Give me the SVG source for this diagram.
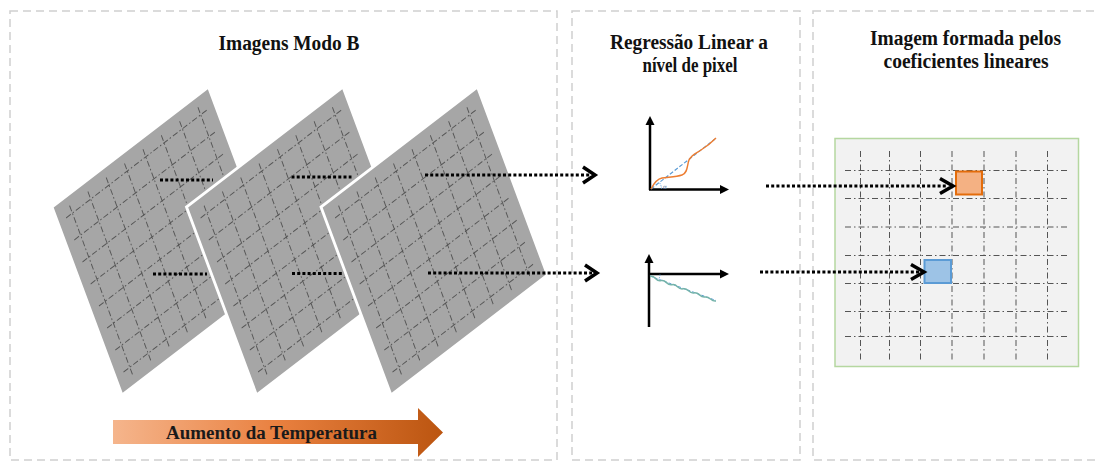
<svg xmlns="http://www.w3.org/2000/svg" xmlns:xlink="http://www.w3.org/1999/xlink" width="1099" height="463" viewBox="0 0 1099 463">
<style>
.panel{fill:none;stroke:#d0d0d0;stroke-width:1.5;stroke-dasharray:8 5}
.title{font-family:'Liberation Serif','DejaVu Serif','Noto Serif',serif;font-weight:bold;font-size:20px;fill:#111;text-anchor:middle}
.pl{fill:#a6a6a6;stroke:#fff;stroke-width:1.5}
.pg{fill:none;stroke:#555;stroke-width:0.5;stroke-dasharray:3 1.2 0.8 1.2}
.dot{fill:none;stroke:#000;stroke-width:3.2;stroke-dasharray:3 2.2}
.chev{fill:none;stroke:#000;stroke-width:3.5;stroke-linejoin:miter}
.axis{stroke:#000;stroke-width:2.5;fill:none}
.ah{fill:#000}
.rg{fill:none;stroke:#555;stroke-width:1;stroke-dasharray:6 3 1.5 3}
</style>
<defs>
<linearGradient id="temp" x1="0" y1="0" x2="1" y2="0">
<stop offset="0" stop-color="#f5b58c"/>
<stop offset="0.5" stop-color="#e9803f"/>
<stop offset="1" stop-color="#bb5510"/>
</linearGradient>
<g id="planeShape">
<polygon class="pl" points="0,0 100,0 100,100 0,100"/>
<path class="pg" d="M9,5V95M20.7,5V95M32.4,5V95M44.1,5V95M55.9,5V95M67.6,5V95M79.3,5V95M91,5V95M5,9H95M5,20.7H95M5,32.4H95M5,44.1H95M5,55.9H95M5,67.6H95M5,79.3H95M5,91H95"/>
</g>
</defs>
<rect width="1099" height="463" fill="#fff"/>
<g id="panels">
<rect class="panel" x="10" y="11" width="547" height="449"/>
<rect class="panel" x="572" y="11" width="228" height="449"/>
<rect class="panel" x="813" y="11" width="300" height="449"/>
</g>
<g id="titles">
<text class="title" x="289" y="50" textLength="141" lengthAdjust="spacingAndGlyphs">Imagens Modo B</text>
<text class="title" x="689" y="48.5" textLength="158" lengthAdjust="spacingAndGlyphs">Regressão Linear a</text>
<text class="title" x="690" y="72" textLength="95" lengthAdjust="spacingAndGlyphs">nível de pixel</text>
<text class="title" x="965.5" y="45" textLength="191" lengthAdjust="spacingAndGlyphs">Imagem formada pelos</text>
<text class="title" x="966" y="68" textLength="165" lengthAdjust="spacingAndGlyphs">coeficientes lineares</text>
</g>
<g id="plane1"><use xlink:href="#planeShape" transform="matrix(1.565 -1.2 0.7 1.88 52 207)"/></g>
<g id="plane2"><use xlink:href="#planeShape" transform="matrix(1.565 -1.2 0.7 1.88 186.5 207)"/></g>
<g id="plane3"><use xlink:href="#planeShape" transform="matrix(1.565 -1.2 0.7 1.88 321 207)"/></g>
<g id="chart-positive">
<path class="axis" d="M650,190V124M649,189.5H720"/>
<polygon class="ah" points="650,116 645.5,125 654.5,125"/>
<polygon class="ah" points="729,189.5 720,185 720,194"/>
<path d="M651,189 L715,139" fill="none" stroke="#5b9bd5" stroke-width="1.2" stroke-dasharray="4 2"/>
<path d="M651,189 C654,183 657,179 662,178 C668,177 676,177 682,175 C688,173 687,165 689,160 C692,154 697,153 701,150 C706,147 712,142 716,138" fill="none" stroke="#ed7d31" stroke-width="1.4"/>
<path d="M661.5,189 A11,11 0 0 0 659,182" fill="none" stroke="#5b9bd5" stroke-width="0.8" stroke-dasharray="1.5 1"/>
<text x="663" y="188.5" font-family="'DejaVu Sans',sans-serif" font-size="6" fill="#5b7fa6">α</text>
</g>
<g id="chart-negative">
<path class="axis" d="M649,327V262M649,274H720"/>
<polygon class="ah" points="649,254 644.5,263 653.5,263"/>
<polygon class="ah" points="729,274 720,269.5 720,278.5"/>
<path d="M650,276 L716,300.5" fill="none" stroke="#5b9bd5" stroke-width="1" stroke-dasharray="3 2"/>
<path d="M650,276.5 Q652.75,275.6 655.5,278.5 T661,280.6 T666.5,282.6 T672,284.7 T677.5,286.7 T683,288.8 T688.5,290.8 T694,292.9 T699.5,294.9 T705,297 T710.5,299 T716,301" fill="none" stroke="#74b3aa" stroke-width="1.5"/>
<path d="M660,274.5 A10,10 0 0 1 658.5,279.5" fill="none" stroke="#5b9bd5" stroke-width="0.8" stroke-dasharray="1.5 1"/>
</g>
<g id="coef-image">
<rect x="835" y="138.5" width="243.5" height="228" fill="#f2f2f2" stroke="#b5d7a0" stroke-width="1.5"/>
<path class="rg" d="M845,170.5H1070M845,198.5H1070M845,227H1070M845,255.5H1070M845,283.5H1070M845,311.5H1070M845,336.5H1070M860.5,151V360M889.5,151V360M920.5,151V360M952,151V360M984,151V360M1016,151V360M1047.5,151V360"/>
</g>
<g id="pixel-orange"><rect x="956" y="171.5" width="26" height="23" fill="#f4b183" stroke="#e46c0a" stroke-width="2"/></g>
<g id="pixel-blue"><rect x="924.5" y="260" width="26.5" height="23" fill="#9dc3e6" stroke="#5b9bd5" stroke-width="2"/></g>
<g id="connectors">
<path class="dot" d="M160,180H213M153,274H207M291.5,177H351.5M292,273.5H343M425,175H590M428,273H592M766,186H948M760,272H919"/>
<polyline class="chev" points="583,167 595,175 583,183"/>
<polyline class="chev" points="585,265 597,273 585,281"/>
<polyline class="chev" points="940,178.5 953,186 940,193.5"/>
<polyline class="chev" points="911,264.5 924,272 911,279.5"/>
</g>
<g id="temperature-arrow">
<path d="M113,420H418V408L443,432.5L418,457V444H113Z" fill="url(#temp)"/>
<text x="271.5" y="438.5" font-family="'Liberation Serif','DejaVu Serif','Noto Serif',serif" font-weight="bold" font-size="18" fill="#1a1a1a" text-anchor="middle" textLength="211" lengthAdjust="spacingAndGlyphs">Aumento da Temperatura</text>
</g>
</svg>
